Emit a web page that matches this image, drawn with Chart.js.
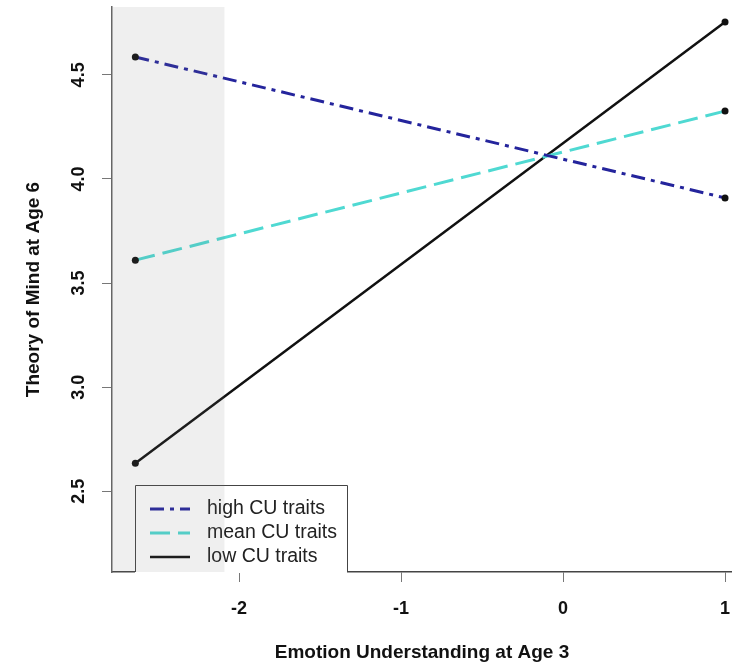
<!DOCTYPE html>
<html>
<head>
<meta charset="utf-8">
<script src="https://cdn.jsdelivr.net/npm/chart.js@4/dist/chart.umd.min.js"></script>
<style>
  html, body { margin: 0; padding: 0; background: #fff; }
  canvas { display: block; }
</style>
</head>
<body>
<canvas id="chart" width="732" height="668"></canvas>
<script>
// values
const xPoints = [-2.64, 1.0];
const highCU = [4.586, 3.909];
const meanCU = [3.61, 4.326];
const lowCU = [2.634, 4.754];
const xTicks = [-2, -1, 0, 1];
const yTicks = [2.5, 3.0, 3.5, 4.0, 4.5];
const seriesLabels = ['high CU traits', 'mean CU traits', 'low CU traits'];
const xRange = [-2.784, 1.043];
const yRange = [2.112, 4.826];
const bandEnd = -2.09; // right edge of the grey region of non-significance

const FONT = '"Liberation Sans", Arial, Helvetica, sans-serif';
const styles = [
  { color: '#24249c', width: 3, dash: [14, 6, 4, 6] },
  { color: '#4fd9d2', width: 3, dash: [20, 8] },
  { color: '#111111', width: 2.5, dash: [] }
];

const toPoints = (ys) => xPoints.map((x, i) => ({ x: x, y: ys[i] }));

// R-style rotated y tick labels, legend box and grey band
const extras = {
  id: 'extras',
  afterDatasetsDraw(chart) {
    const { ctx, chartArea, scales } = chart;
    const x = scales.x, y = scales.y;

    // legend
    const lx = chartArea.left + 23, ly = chartArea.bottom - 87, lw = 212;
    ctx.save();
    ctx.fillStyle = '#fff';
    ctx.fillRect(lx, ly, lw, chartArea.bottom - ly + 1);
    ctx.strokeStyle = '#444';
    ctx.lineWidth = 1;
    ctx.beginPath();
    ctx.moveTo(lx + 0.5, chartArea.bottom);
    ctx.lineTo(lx + 0.5, ly + 0.5);
    ctx.lineTo(lx + lw + 0.5, ly + 0.5);
    ctx.lineTo(lx + lw + 0.5, chartArea.bottom);
    ctx.stroke();
    seriesLabels.forEach((label, i) => {
      const ry = ly + 24 + i * 24;
      const st = styles[i];
      ctx.strokeStyle = st.color;
      ctx.lineWidth = st.width;
      ctx.setLineDash(st.dash);
      ctx.beginPath();
      ctx.moveTo(lx + 15, ry);
      ctx.lineTo(lx + 55, ry);
      ctx.stroke();
      ctx.setLineDash([]);
      ctx.fillStyle = '#222';
      ctx.font = '19.5px ' + FONT;
      ctx.textAlign = 'left';
      ctx.textBaseline = 'middle';
      ctx.fillText(label, lx + 72, ry);
    });
    ctx.restore();

    // grey band over the left end
    ctx.save();
    const bx0 = x.getPixelForValue(xRange[0]);
    const bx1 = x.getPixelForValue(bandEnd);
    ctx.fillStyle = 'rgba(120,120,120,0.12)';
    ctx.fillRect(bx0, chartArea.top, bx1 - bx0, chartArea.bottom - chartArea.top);
    ctx.restore();

    // y tick labels, rotated
    ctx.save();
    ctx.fillStyle = '#111';
    ctx.font = 'bold 18px ' + FONT;
    ctx.textAlign = 'center';
    ctx.textBaseline = 'middle';
    yTicks.forEach(v => {
      const py = y.getPixelForValue(v);
      ctx.save();
      ctx.translate(79, py);
      ctx.rotate(-Math.PI / 2);
      ctx.fillText(v.toFixed(1), 0, 0);
      ctx.restore();
    });
    ctx.restore();
  }
};

new Chart(document.getElementById('chart'), {
  type: 'scatter',
  data: {
    datasets: [highCU, meanCU, lowCU].map((ys, i) => ({
      label: seriesLabels[i],
      data: toPoints(ys),
      showLine: true,
      borderColor: styles[i].color,
      borderWidth: styles[i].width,
      borderDash: styles[i].dash,
      pointRadius: 3.5,
      pointBackgroundColor: '#111',
      pointBorderWidth: 0,
      pointHoverRadius: 3.5
    }))
  },
  options: {
    responsive: false,
    animation: false,
    devicePixelRatio: 1,
    layout: { autoPadding: false, padding: { top: 7, right: 0, bottom: 0, left: 0 } },
    plugins: { legend: { display: false }, tooltip: { enabled: false } },
    scales: {
      x: {
        type: 'linear',
        min: xRange[0],
        max: xRange[1],
        afterBuildTicks: (s) => { s.ticks = xTicks.map(v => ({ value: v })); },
        afterFit: (s) => { s.height = 96; s.paddingLeft = 0; s.paddingRight = 0; },
        grid: { drawOnChartArea: false, drawTicks: true, tickLength: 10, color: '#777', lineWidth: 1 },
        border: { display: true, color: '#444', width: 1.5 },
        ticks: {
          color: '#111',
          font: { family: FONT, size: 18, weight: 'bold' },
          padding: 16,
          maxRotation: 0,
          callback: (v) => String(v)
        },
        title: {
          display: true,
          text: 'Emotion Understanding at Age 3',
          color: '#111',
          font: { family: FONT, size: 19, weight: 'bold' },
          padding: { top: 0, bottom: 4 }
        }
      },
      y: {
        type: 'linear',
        min: yRange[0],
        max: yRange[1],
        afterBuildTicks: (s) => { s.ticks = yTicks.map(v => ({ value: v })); },
        afterFit: (s) => { s.width = 112; s.paddingTop = 0; s.paddingBottom = 0; },
        grid: { drawOnChartArea: false, drawTicks: true, tickLength: 10, color: '#777', lineWidth: 1 },
        border: { display: true, color: '#666', width: 1.5 },
        ticks: { display: false },
        title: {
          display: true,
          text: 'Theory of Mind at Age 6',
          color: '#111',
          font: { family: FONT, size: 19, weight: 'bold' },
          padding: { top: 22, bottom: 0 }
        }
      }
    }
  },
  plugins: [extras]
});
</script>
</body>
</html>
